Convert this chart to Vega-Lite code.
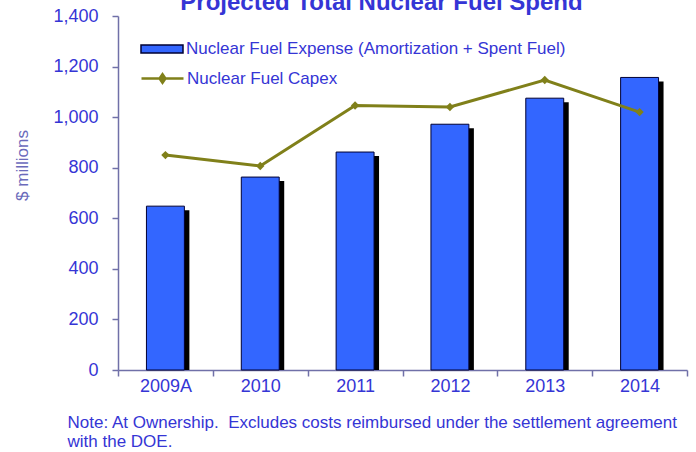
{
  "$schema": "https://vega.github.io/schema/vega-lite/v6.json",
  "width": 569,
  "height": 354,
  "autosize": {"type": "none"},
  "padding": {"left": 118, "top": 16, "right": 9, "bottom": 82},
  "background": "white",
  "config": {"view": {"stroke": null}, "font": "Liberation Sans"},
  "title": {
    "text": "Projected Total Nuclear Fuel Spend",
    "fontSize": 24,
    "fontWeight": "bold",
    "color": "#3535d5",
    "font": "Liberation Sans",
    "baseline": "alphabetic",
    "frame": "group",
    "offset": 0,
    "dx": -21,
    "dy": 27
  },
  "data": {
    "values": [
      {"year": "2009A", "expense": 648, "capex": 850},
      {"year": "2010", "expense": 763, "capex": 807},
      {"year": "2011", "expense": 862, "capex": 1046},
      {"year": "2012", "expense": 972, "capex": 1040},
      {"year": "2013", "expense": 1075, "capex": 1147},
      {"year": "2014", "expense": 1157, "capex": 1020}
    ]
  },
  "encoding": {
    "x": {
      "field": "year",
      "type": "nominal",
      "sort": null,
      "scale": {"paddingInner": 0, "paddingOuter": 0},
      "axis": {
        "tickBand": "extent",
        "labelAngle": 0,
        "labelFontSize": 18,
        "labelColor": "#3535d5",
        "labelPadding": 1,
        "tickSize": 6,
        "tickColor": "#7070a8",
        "domainColor": "#7070a8",
        "domainWidth": 1.5,
        "tickWidth": 1.5,
        "title": ["Note: At Ownership.\u00a0 Excludes costs reimbursed under the settlement agreement", "with the DOE."],
        "titleFontSize": 17,
        "titleFontWeight": "normal",
        "titleColor": "#3535d5",
        "titleX": -51,
        "titleY": 44,
        "titleAlign": "left",
        "titleAnchor": "start",
        "titleBaseline": "top",
        "titleLineHeight": 19
      }
    }
  },
  "layer": [
    {
      "mark": {"type": "bar", "color": "#000000", "width": {"band": 0.4}, "xOffset": 5, "yOffset": 4, "clip": true},
      "encoding": {
        "y": {
          "field": "expense",
          "type": "quantitative",
          "scale": {"domain": [0, 1400]},
          "axis": {
            "values": [0, 200, 400, 600, 800, 1000, 1200, 1400],
            "format": ",.0f",
            "grid": false,
            "labelFontSize": 18,
            "labelColor": "#3535d5",
            "labelPadding": 14,
            "tickSize": 6,
            "tickColor": "#7070a8",
            "domainColor": "#7070a8",
            "domainWidth": 1.5,
            "tickWidth": 1.5,
            "title": "$ millions",
            "titleFontSize": 17,
            "titleFontWeight": "normal",
            "titleColor": "#6a6abb",
            "titleX": -96,
            "titleY": 149,
            "titleAlign": "center",
            "titleBaseline": "middle",
            "titleAngle": -90
          }
        }
      }
    },
    {
      "mark": {"type": "bar", "width": {"band": 0.4}, "stroke": "#000033", "strokeWidth": 1},
      "encoding": {
        "y": {"field": "expense", "type": "quantitative"},
        "fill": {
          "datum": "Nuclear Fuel Expense (Amortization + Spent Fuel)",
          "type": "nominal",
          "scale": {"range": ["#3366ff"]},
          "legend": {
            "orient": "none",
            "legendX": 22,
            "legendY": 11,
            "title": null,
            "padding": 0,
            "labelFontSize": 17,
            "labelColor": "#3535d5",
            "labelOffset": 2,
            "labelLimit": 500,
            "symbolSize": 1764,
            "symbolType": "M-1,-0.19H1V0.19H-1Z",
            "symbolStrokeColor": "#000033",
            "symbolStrokeWidth": 1.5
          }
        }
      }
    },
    {
      "mark": {"type": "line", "strokeWidth": 3},
      "encoding": {
        "y": {"field": "capex", "type": "quantitative"},
        "stroke": {
          "datum": "Nuclear Fuel Capex",
          "type": "nominal",
          "scale": {"range": ["#80801a"]},
          "legend": {
            "orient": "none",
            "legendX": 22,
            "legendY": 40,
            "title": null,
            "padding": 0,
            "labelFontSize": 17,
            "labelColor": "#3535d5",
            "labelOffset": 2,
            "labelLimit": 500,
            "symbolSize": 1764,
            "symbolType": "M-1,0H1M0,-0.2L0.14,0L0,0.2L-0.14,0Z",
            "symbolStrokeWidth": 2.5,
            "symbolFillColor": "#80801a",
            "encode": {"symbols": {"update": {"fill": {"value": "#80801a"}}}}
          }
        }
      }
    },
    {
      "mark": {"type": "point", "shape": "diamond", "filled": true, "size": 70, "color": "#80801a", "opacity": 1},
      "encoding": {"y": {"field": "capex", "type": "quantitative"}}
    }
  ]
}
